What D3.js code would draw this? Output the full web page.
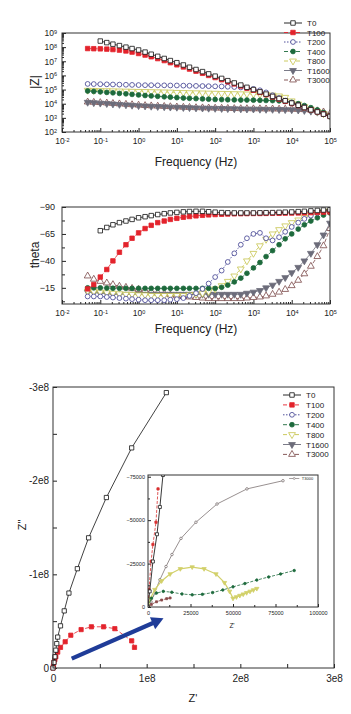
<!DOCTYPE html>
<html>
<head>
<meta charset="utf-8">
<script src="https://cdn.jsdelivr.net/npm/d3@7"></script>
<style>
  body { margin: 0; background: #fff; }
  svg text { font-family: "Liberation Sans", Arial, sans-serif; fill: #222; }
</style>
</head>
<body>
<svg id="chart" width="351" height="714"></svg>
<script>
// series names (legend order)
var names = ["T0", "T100", "T200", "T400", "T800", "T1600", "T3000"];

// frequency sweep, log10(Hz)
var freqExp = [-1.33, -1.17, -1, -0.83, -0.67, -0.5, -0.33, -0.17, 0, 0.17, 0.33, 0.5, 0.67, 0.83,
  1, 1.17, 1.33, 1.5, 1.67, 1.83, 2, 2.17, 2.33, 2.5, 2.67, 2.83, 3, 3.17, 3.33, 3.5, 3.67, 3.83,
  4, 4.17, 4.33, 4.5, 4.67, 4.83, 5];

// |Z| as log10(ohm)
var logZ_T0 = [null, null, 8.43, 8.32, 8.21, 8.11, 8.0, 7.9, 7.8, 7.65, 7.5, 7.35, 7.2, 7.05, 6.9, 6.74, 6.58, 6.42, 6.27, 6.11, 5.95, 5.79, 5.63, 5.47, 5.32, 5.16, 5.0, 4.84, 4.68, 4.52, 4.37, 4.21, 4.05, 3.89, 3.73, 3.57, 3.42, 3.26, 3.1];
var logZ_T100 = [7.9, 7.89, 7.88, 7.86, 7.83, 7.79, 7.73, 7.65, 7.55, 7.44, 7.32, 7.19, 7.05, 6.9, 6.75, 6.6, 6.45, 6.3, 6.15, 6.0, 5.85, 5.7, 5.55, 5.4, 5.25, 5.1, 4.95, 4.8, 4.64, 4.48, 4.33, 4.17, 4.02, 3.87, 3.72, 3.57, 3.42, 3.27, 3.12];
var logZ_T200 = [5.4, 5.39, 5.38, 5.37, 5.36, 5.35, 5.34, 5.33, 5.32, 5.31, 5.31, 5.3, 5.3, 5.29, 5.29, 5.28, 5.27, 5.26, 5.25, 5.24, 5.23, 5.22, 5.2, 5.18, 5.15, 5.11, 5.05, 4.95, 4.8, 4.6, 4.4, 4.22, 4.06, 3.9, 3.74, 3.58, 3.43, 3.27, 3.12];
var logZ_T400 = [4.9, 4.87, 4.84, 4.8, 4.77, 4.73, 4.7, 4.66, 4.62, 4.58, 4.55, 4.52, 4.49, 4.46, 4.43, 4.4, 4.38, 4.36, 4.34, 4.32, 4.3, 4.29, 4.28, 4.27, 4.26, 4.26, 4.25, 4.24, 4.23, 4.22, 4.2, 4.16, 4.1, 4.0, 3.87, 3.72, 3.56, 3.38, 3.18];
var logZ_T800 = [4.95, 4.94, 4.93, 4.92, 4.91, 4.9, 4.89, 4.88, 4.87, 4.86, 4.85, 4.84, 4.83, 4.82, 4.8, 4.79, 4.78, 4.77, 4.76, 4.75, 4.74, 4.73, 4.72, 4.71, 4.7, 4.69, 4.68, 4.66, 4.64, 4.61, 4.55, 4.45, 4.2, 3.98, 3.8, 3.62, 3.46, 3.3, 3.15];
var logZ_T1600 = [4.1, 4.07, 4.04, 4.01, 3.98, 3.95, 3.92, 3.89, 3.86, 3.84, 3.82, 3.8, 3.78, 3.76, 3.75, 3.73, 3.72, 3.7, 3.69, 3.68, 3.67, 3.66, 3.65, 3.64, 3.63, 3.62, 3.62, 3.61, 3.6, 3.6, 3.59, 3.58, 3.57, 3.55, 3.52, 3.47, 3.4, 3.3, 3.15];
var logZ_T3000 = [4.12, 4.1, 4.08, 4.05, 4.02, 3.99, 3.96, 3.93, 3.9, 3.87, 3.85, 3.83, 3.81, 3.79, 3.77, 3.75, 3.74, 3.72, 3.71, 3.7, 3.69, 3.68, 3.67, 3.66, 3.65, 3.65, 3.64, 3.64, 3.63, 3.63, 3.62, 3.62, 3.61, 3.6, 3.58, 3.55, 3.5, 3.42, 3.3];

// phase angle (deg)
var th_T0 = [null, null, -68, -71, -73.5, -75.5, -77, -78.5, -80, -81, -82, -83, -83.8, -84.5, -85, -85.5, -85.8, -86, -86, -85.6, -85.2, -84.8, -84.6, -84.5, -84.5, -84.5, -84.5, -84.6, -84.7, -84.8, -85, -85.2, -85.4, -85.7, -86, -86.4, -86.8, -87.2, -87.5];
var th_T100 = [-14, -18, -25, -32, -40, -48, -55, -61, -66, -70, -73, -75.5, -77, -78.5, -79.5, -80.5, -81.2, -81.8, -82.3, -82.7, -83, -83.3, -83.5, -83.7, -83.8, -83.9, -84, -84, -84.1, -84.2, -84.2, -84.3, -84.4, -84.5, -84.6, -84.8, -85, -85.2, -85.4];
var th_T200 = [-7, -7, -7, -6.5, -6, -5.5, -5, -4.5, -4, -3.5, -3.5, -3.5, -3.5, -4, -4.5, -5.5, -7.5, -10, -14, -19, -25, -31, -39, -47, -55, -61, -65, -66, -61, -59, -62, -67, -71.5, -75.5, -79, -82, -84.5, -86, -87];
var th_T400 = [-15, -15, -15, -14.8, -14.6, -14.5, -14.5, -14.5, -14.5, -14.5, -14.5, -14.5, -14.5, -14.5, -14.5, -14.5, -14.5, -14.5, -14.5, -14.5, -14.5, -15.5, -17.5, -20.5, -24, -28.5, -33.5, -38.5, -44, -49.5, -55, -60.5, -65, -69.5, -73.5, -77, -80, -82.5, -84.5];
var th_T800 = [-12, -11.5, -11, -10.5, -10, -9.5, -9, -9, -8.5, -8.5, -8, -8, -8, -8, -8, -8, -8.5, -9, -10, -11.5, -14, -17, -21, -26, -32.5, -40, -47, -54, -60, -65, -69, -72.5, -75.5, -78, -80.5, -82.5, -84, -85.5, -86.5];
var th_T1600 = [-11, -10.5, -10, -9.5, -9, -9, -9, -9, -9, -9, -9, -9, -9, -9, -9, -9, -9, -9, -9, -9, -9, -9, -9, -9, -9, -10, -11, -12.5, -15, -17.5, -21, -24.5, -29, -34, -40, -47, -55, -64, -75];
var th_T3000 = [-26, -23, -21, -19.5, -18, -16.5, -15.5, -14.5, -13.5, -12.5, -11.5, -10.5, -9.5, -8.5, -7.5, -7, -6.5, -6, -5.5, -5, -5, -5, -5, -5, -5, -5.5, -6, -6.5, -7.5, -9, -11, -13.5, -17, -22, -28, -35, -44, -54, -70];

// Nyquist, full scale (ohm)
var nyqRe_T0 = [0, 0.01e8, 0.02e8, 0.03e8, 0.04e8, 0.05e8, 0.08e8, 0.12e8, 0.17e8, 0.26e8, 0.38e8, 0.57e8, 0.84e8, 1.21e8];
var nyqIm_T0 = [0, -0.06e8, -0.12e8, -0.19e8, -0.26e8, -0.33e8, -0.45e8, -0.61e8, -0.80e8, -1.06e8, -1.39e8, -1.82e8, -2.35e8, -2.94e8];
var nyqRe_T100 = [0, 0.005e8, 0.01e8, 0.02e8, 0.03e8, 0.05e8, 0.08e8, 0.13e8, 0.19e8, 0.30e8, 0.41e8, 0.54e8, 0.66e8, 0.84e8, 0.87e8];
var nyqIm_T100 = [0, -0.02e8, -0.06e8, -0.09e8, -0.12e8, -0.17e8, -0.22e8, -0.28e8, -0.35e8, -0.41e8, -0.44e8, -0.44e8, -0.42e8, -0.29e8, -0.22e8];

// Nyquist, inset (ohm)
var insRe_T0 = [0, 1000, 2900, 5300, 7000, 8800];
var insIm_T0 = [0, -9000, -26200, -41900, -57600, -76000];
var insRe_T100 = [0, 600, 1800, 2900, 4700, 5900];
var insIm_T100 = [0, -10000, -26200, -36000, -48800, -68000];
var insRe_T1600 = [0, 2000, 5000, 8000, 11000, 13000];
var insIm_T1600 = [0, -1500, -3000, -4000, -4800, -5200];
var insRe_T3000 = [0, 1800, 4100, 7000, 10600, 14100, 19400, 28200, 40600, 58200, 79400];
var insIm_T3000 = [0, -2900, -8700, -15700, -23300, -30200, -39500, -48800, -59300, -68000, -72700];
var insRe_T800 = [0, 1500, 4000, 8000, 13000, 19000, 26000, 33000, 40000, 45000, 48000, 50000, 52000, 54000, 56000, 58000, 60000, 62000, 64000];
var insIm_T800 = [0, -5000, -10000, -15000, -19000, -22000, -23000, -22000, -19000, -14000, -9000, -5000, -5800, -6600, -7400, -8200, -9000, -9800, -10600];
var insRe_T400 = [0, 2000, 5000, 9000, 14000, 20000, 26000, 32000, 38000, 44000, 50000, 57000, 64000, 71000, 78000, 86000];
var insIm_T400 = [0, -5000, -8000, -9000, -8500, -7500, -7000, -7300, -8300, -9800, -11600, -13500, -15500, -17300, -19000, -21000];

// arrow from main plot into the inset (data coords of main Nyquist)
var arrowFrom = [0.2e8, -0.1e8];
var arrowTo = [1.18e8, -0.53e8];

var logZ = { T0: logZ_T0, T100: logZ_T100, T200: logZ_T200, T400: logZ_T400, T800: logZ_T800, T1600: logZ_T1600, T3000: logZ_T3000 };
var theta = { T0: th_T0, T100: th_T100, T200: th_T200, T400: th_T400, T800: th_T800, T1600: th_T1600, T3000: th_T3000 };

var style = {
  T0:    { color: "#111111", dash: null,      shape: d3.symbolSquare,   fill: false, rot: 0 },
  T100:  { color: "#e3232c", dash: "4,2",     shape: d3.symbolSquare,   fill: true,  rot: 0 },
  T200:  { color: "#3d3d8f", dash: "1.5,1.5", shape: d3.symbolCircle,   fill: false, rot: 0 },
  T400:  { color: "#1d6a3c", dash: "4,2",     shape: d3.symbolCircle,   fill: true,  rot: 0 },
  T800:  { color: "#c6c44e", dash: "4,2",     shape: d3.symbolTriangle, fill: false, rot: 180 },
  T1600: { color: "#6c6c7a", dash: null,      shape: d3.symbolTriangle, fill: true,  rot: 180 },
  T3000: { color: "#7a4848", dash: "4,2",     shape: d3.symbolTriangle, fill: false, rot: 0 }
};
var sizeOf = { square: 20, circle: 18, triangle: 20 };
function symSize(st) {
  return st.shape === d3.symbolSquare ? sizeOf.square : st.shape === d3.symbolCircle ? sizeOf.circle : sizeOf.triangle;
}

var svg = d3.select("#chart");
var FONT = '"Liberation Sans", Arial, sans-serif';

function drawSeries(g, pts, st, size, lw) {
  g.append("path").datum(pts)
    .attr("d", d3.line().x(function (d) { return d[0]; }).y(function (d) { return d[1]; }))
    .attr("fill", "none").attr("stroke", st.color).attr("stroke-width", lw || 0.8)
    .attr("stroke-dasharray", st.dash);
  if (!size) return;
  g.selectAll(null).data(pts).enter().append("path")
    .attr("d", d3.symbol().type(st.shape).size(size))
    .attr("transform", function (d) { return "translate(" + d[0] + "," + d[1] + ") rotate(" + (st.rot || 0) + ")"; })
    .attr("fill", st.fill ? st.color : "#fff")
    .attr("stroke", st.color).attr("stroke-width", 0.8);
}

function legend(g, x0, y0, step, fs) {
  names.forEach(function (n, k) {
    var st = style[n], y = y0 + k * step;
    drawSeries(g, [[x0, y], [x0 + 18, y]], st, 0, 0.9);
    g.append("path")
      .attr("d", d3.symbol().type(st.shape).size(symSize(st)))
      .attr("transform", "translate(" + (x0 + 9) + "," + y + ") rotate(" + st.rot + ")")
      .attr("fill", st.fill ? st.color : "#fff").attr("stroke", st.color).attr("stroke-width", 0.8);
    g.append("text").attr("x", x0 + 23).attr("y", y + 3).attr("font-size", fs).text(n);
  });
}

// plot box from the scales' pixel ranges
function box(x, y) {
  var xr = d3.extent(x.range()), yr = d3.extent(y.range());
  return { x: xr[0], y: yr[0], w: xr[1] - xr[0], h: yr[1] - yr[0] };
}

function frame(x, y) {
  var b = box(x, y);
  svg.append("rect").attr("x", b.x).attr("y", b.y).attr("width", b.w).attr("height", b.h)
    .attr("fill", "none").attr("stroke", "#333").attr("stroke-width", 1);
}

function clip(id, x, y) {
  var b = box(x, y);
  svg.append("clipPath").attr("id", id).append("rect")
    .attr("x", b.x).attr("y", b.y).attr("width", b.w).attr("height", b.h);
}

function styleAxis(a, fs) {
  a.attr("font-family", FONT).attr("font-size", fs).attr("color", "#222");
  a.select(".domain").remove();
}

function supLabels(a) {
  a.selectAll(".tick text").each(function (d) {
    var e = Math.round(Math.log10(d));
    d3.select(this).text("10").append("tspan")
      .attr("dy", "-0.45em").attr("font-size", "0.65em").text(e);
  });
}

var decX = [], minX = [];
for (var k = -2; k <= 5; k++) {
  decX.push(Math.pow(10, k));
  if (k < 5) for (var m = 2; m <= 9; m++) minX.push(m * Math.pow(10, k));
}

function freqAxis(x, y) {
  var b = box(x, y), y0 = b.y + b.h;
  svg.append("g").attr("transform", "translate(0," + y0 + ")")
    .call(d3.axisBottom(x).tickValues(minX).tickSizeInner(-2).tickSizeOuter(0).tickFormat(""))
    .call(function (a) { styleAxis(a, 9); });
  svg.append("g").attr("transform", "translate(0," + y0 + ")")
    .call(d3.axisBottom(x).tickValues(decX).tickSizeInner(-4).tickSizeOuter(0).tickPadding(6).tickFormat(function () { return "10"; }))
    .call(function (a) { styleAxis(a, 8.5); supLabels(a); });
}

// ---------- panel 1: |Z| vs frequency ----------
var xF1 = d3.scaleLog().domain([1e-2, 1e5]).range([62, 330]);
var yZ = d3.scaleLog().domain([1e2, 1e9]).range([132, 33]);
clip("c1", xF1, yZ);

var decY = [], minY = [];
for (var k2 = 2; k2 <= 9; k2++) {
  decY.push(Math.pow(10, k2));
  if (k2 < 9) for (var m2 = 2; m2 <= 9; m2++) minY.push(m2 * Math.pow(10, k2));
}
svg.append("g").attr("transform", "translate(62,0)")
  .call(d3.axisLeft(yZ).tickValues(minY).tickSizeInner(-2).tickSizeOuter(0).tickFormat(""))
  .call(function (a) { styleAxis(a, 9); });
svg.append("g").attr("transform", "translate(62,0)")
  .call(d3.axisLeft(yZ).tickValues(decY).tickSizeInner(-4).tickSizeOuter(0).tickPadding(5).tickFormat(function () { return "10"; }))
  .call(function (a) { styleAxis(a, 8.5); supLabels(a); });
freqAxis(xF1, yZ);

var g1 = svg.append("g").attr("clip-path", "url(#c1)");
names.slice().reverse().forEach(function (n) {
  var pts = [];
  logZ[n].forEach(function (v, i) {
    if (v != null) pts.push([xF1(Math.pow(10, freqExp[i])), yZ(Math.pow(10, v))]);
  });
  drawSeries(g1, pts, style[n], symSize(style[n]));
});
frame(xF1, yZ);
legend(svg.append("g"), 284, 23, 9.5, 8);

svg.append("text").attr("transform", "translate(39,82) rotate(-90)")
  .attr("text-anchor", "middle").attr("font-size", 12).text("|Z|");
svg.append("text").attr("x", 196).attr("y", 166)
  .attr("text-anchor", "middle").attr("font-size", 12).text("Frequency (Hz)");

// ---------- panel 2: phase vs frequency ----------
var xF2 = d3.scaleLog().domain([1e-2, 1e5]).range([62, 330]);
var yT = d3.scaleLinear().domain([-90, 0]).range([207, 304]);
clip("c2", xF2, yT);

svg.append("g").attr("transform", "translate(62,0)")
  .call(d3.axisLeft(yT).tickValues([-77.5, -52.5, -27.5, -2.5]).tickSizeInner(-3).tickSizeOuter(0).tickFormat(""))
  .call(function (a) { styleAxis(a, 9); });
svg.append("g").attr("transform", "translate(62,0)")
  .call(d3.axisLeft(yT).tickValues([-90, -65, -40, -15]).tickSizeInner(-4).tickSizeOuter(0).tickPadding(7))
  .call(function (a) { styleAxis(a, 9); });
freqAxis(xF2, yT);

var g2 = svg.append("g").attr("clip-path", "url(#c2)");
names.slice().reverse().forEach(function (n) {
  var pts = [];
  theta[n].forEach(function (v, i) {
    if (v != null) pts.push([xF2(Math.pow(10, freqExp[i])), yT(v)]);
  });
  drawSeries(g2, pts, style[n], symSize(style[n]));
});
frame(xF2, yT);

svg.append("text").attr("transform", "translate(39,255) rotate(-90)")
  .attr("text-anchor", "middle").attr("font-size", 12).text("theta");
svg.append("text").attr("x", 196).attr("y", 333)
  .attr("text-anchor", "middle").attr("font-size", 12).text("Frequency (Hz)");

// ---------- panel 3: Nyquist ----------
var xN = d3.scaleLinear().domain([0, 3e8]).range([53, 334]);
var yN = d3.scaleLinear().domain([0, -3e8]).range([668, 387]);
function e8(d) { return d === 0 ? "0" : (d / 1e8) + "e8"; }

svg.append("g").attr("transform", "translate(0,668)")
  .call(d3.axisBottom(xN).tickValues([0.5e8, 1.5e8, 2.5e8]).tickSizeInner(-4).tickSizeOuter(0).tickFormat(""))
  .call(function (a) { styleAxis(a, 10); });
svg.append("g").attr("transform", "translate(0,668)")
  .call(d3.axisBottom(xN).tickValues([0, 1e8, 2e8, 3e8]).tickSizeInner(-4).tickSizeOuter(0).tickPadding(7).tickFormat(e8))
  .call(function (a) { styleAxis(a, 10); });
svg.append("g").attr("transform", "translate(53,0)")
  .call(d3.axisLeft(yN).tickValues([-0.5e8, -1.5e8, -2.5e8]).tickSizeInner(-4).tickSizeOuter(0).tickFormat(""))
  .call(function (a) { styleAxis(a, 10); });
svg.append("g").attr("transform", "translate(53,0)")
  .call(d3.axisLeft(yN).tickValues([0, -1e8, -2e8, -3e8]).tickSizeInner(-4).tickSizeOuter(0).tickPadding(4).tickFormat(e8))
  .call(function (a) { styleAxis(a, 10); });

var g3 = svg.append("g");
drawSeries(g3, nyqRe_T100.map(function (v, i) { return [xN(v), yN(nyqIm_T100[i])]; }), style.T100, 18);
drawSeries(g3, nyqRe_T0.map(function (v, i) { return [xN(v), yN(nyqIm_T0[i])]; }), style.T0, 18);
frame(xN, yN);
legend(svg.append("g"), 283, 395, 9.9, 8);

svg.append("text").attr("transform", "translate(26,525) rotate(-90)")
  .attr("text-anchor", "middle").attr("font-size", 11).text('Z"');
svg.append("text").attr("x", 193).attr("y", 702)
  .attr("text-anchor", "middle").attr("font-size", 11).text("Z'");

// ---------- inset ----------
var xI = d3.scaleLinear().domain([0, 100000]).range([148, 318]);
var yI = d3.scaleLinear().domain([0, -76000]).range([607, 475]);
clip("c4", xI, yI);
var bi = box(xI, yI);
svg.append("rect").attr("x", bi.x).attr("y", bi.y).attr("width", bi.w).attr("height", bi.h).attr("fill", "#fff");

svg.append("g").attr("transform", "translate(0,607)")
  .call(d3.axisBottom(xI).tickValues([12500, 37500, 62500, 87500]).tickSizeInner(-2).tickSizeOuter(0).tickFormat(""))
  .call(function (a) { styleAxis(a, 5); });
svg.append("g").attr("transform", "translate(0,607)")
  .call(d3.axisBottom(xI).tickValues([0, 25000, 50000, 75000, 100000]).tickSizeInner(-3).tickSizeOuter(0).tickPadding(4).tickFormat(d3.format("d")))
  .call(function (a) { styleAxis(a, 5.5); });
svg.append("g").attr("transform", "translate(148,0)")
  .call(d3.axisLeft(yI).tickValues([-12500, -37500, -62500]).tickSizeInner(-2).tickSizeOuter(0).tickFormat(""))
  .call(function (a) { styleAxis(a, 5); });
svg.append("g").attr("transform", "translate(148,0)")
  .call(d3.axisLeft(yI).tickValues([0, -25000, -50000, -75000]).tickSizeInner(-3).tickSizeOuter(0).tickPadding(3).tickFormat(d3.format("d")))
  .call(function (a) { styleAxis(a, 5.5); });

var insetStyle = {
  T3000: { color: "#7d7474", dash: null, shape: d3.symbolCircle, fill: false, rot: 0 },
  T800:  { color: "#d2d06a", dash: null, shape: d3.symbolTriangle, fill: true, rot: 180 },
  T400:  { color: "#1d6a3c", dash: "3,1.5", shape: d3.symbolCircle, fill: true, rot: 0 },
  T1600: { color: "#8a4a4a", dash: "2,1", shape: d3.symbolSquare, fill: true, rot: 0 },
  T100:  { color: "#d83030", dash: "3,1.5", shape: d3.symbolSquare, fill: true, rot: 0 },
  T0:    { color: "#222222", dash: null, shape: d3.symbolSquare, fill: false, rot: 0 }
};
var g4 = svg.append("g").attr("clip-path", "url(#c4)");
function insPts(re, im) { return re.map(function (v, i) { return [xI(v), yI(im[i])]; }); }
drawSeries(g4, insPts(insRe_T3000, insIm_T3000), insetStyle.T3000, 5, 0.8);
drawSeries(g4, insPts(insRe_T800, insIm_T800), insetStyle.T800, 8, 1.2);
drawSeries(g4, insPts(insRe_T400, insIm_T400), insetStyle.T400, 5, 0.8);
drawSeries(g4, insPts(insRe_T1600, insIm_T1600), insetStyle.T1600, 4, 0.9);
drawSeries(g4, insPts(insRe_T100, insIm_T100), insetStyle.T100, 5, 0.8);
drawSeries(g4, insPts(insRe_T0, insIm_T0), insetStyle.T0, 9, 0.9);
frame(xI, yI);

// inset legend
var il = svg.append("g");
drawSeries(il, [[xI(83000), yI(-74000)], [xI(89000), yI(-74000)]], insetStyle.T3000, 0, 0.7);
il.append("circle").attr("cx", xI(86000)).attr("cy", yI(-74000)).attr("r", 1)
  .attr("fill", "#fff").attr("stroke", insetStyle.T3000.color).attr("stroke-width", 0.6);
il.append("text").attr("x", xI(90500)).attr("y", yI(-74000) + 1.5).attr("font-size", 4).text("T3000");

svg.append("text").attr("x", 232).attr("y", 628)
  .attr("text-anchor", "middle").attr("font-size", 6.5).text("Z'");

// ---------- arrow ----------
var ax0 = xN(arrowFrom[0]), ay0 = yN(arrowFrom[1]), ax1 = xN(arrowTo[0]), ay1 = yN(arrowTo[1]);
var ang = Math.atan2(ay1 - ay0, ax1 - ax0) * 180 / Math.PI;
var len = Math.hypot(ax1 - ax0, ay1 - ay0);
var arrow = svg.append("g").attr("transform", "translate(" + ax0 + "," + ay0 + ") rotate(" + ang + ")");
arrow.append("line").attr("x1", 0).attr("y1", 0).attr("x2", len - 9).attr("y2", 0)
  .attr("stroke", "#1f3c98").attr("stroke-width", 4.2);
arrow.append("path").attr("d", "M" + len + ",0L" + (len - 12) + ",-6.5L" + (len - 12) + ",6.5Z")
  .attr("fill", "#1f3c98");
</script>
</body>
</html>
